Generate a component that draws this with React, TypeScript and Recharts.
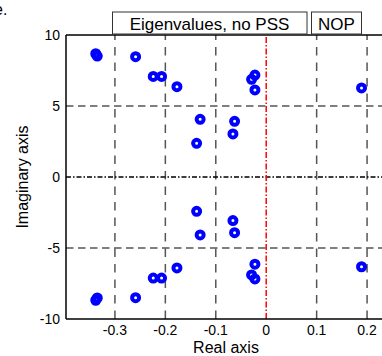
import React from "react";
import { ScatterChart, Scatter, XAxis, YAxis, ReferenceLine } from "recharts";

const realParts = [
  -0.338, -0.335, -0.259, -0.224, -0.2075, -0.177, -0.131, -0.138, -0.0224, -0.029, -0.0224, 0.189, -0.0627, -0.066,
  -0.338, -0.335, -0.259, -0.224, -0.2075, -0.177, -0.131, -0.138, -0.0224, -0.029, -0.0224, 0.189, -0.0627, -0.066,
];
const imagParts = [
  8.68, 8.52, 8.47, 7.08, 7.08, 6.36, 4.06, 2.37, 7.18, 6.88, 6.13, 6.27, 3.92, 3.03,
  -8.68, -8.52, -8.5, -7.12, -7.12, -6.4, -4.08, -2.42, -7.18, -6.9, -6.14, -6.32, -3.92, -3.07,
];
const xTicks = [-0.3, -0.2, -0.1, 0, 0.1, 0.2];
const yTicks = [-10, -5, 0, 5, 10];
const xGrid = [-0.3, -0.2, -0.1, 0.1, 0.2];
const yGrid = [-5, 5];
const xDomain = [-0.397, 0.2296];
const yDomain = [-10, 10];
const legendLabels = ["Eigenvalues, no PSS", "NOP"];
const xLabel = "Real axis";
const yLabel = "Imaginary axis";
const panelLabel = "e.";

const data = realParts.map((x, i) => ({ x, y: imagParts[i] }));

const FONT = "'Liberation Sans', Arial, sans-serif";

const Marker = (props: any) => {
  const { cx, cy } = props;
  if (cx == null || cy == null) return null;
  return <circle cx={cx} cy={cy} r={3.5} fill="none" stroke="#0000ff" strokeWidth={4} />;
};

const XTick = (props: any) => {
  const { x, payload } = props;
  return (
    <text x={x} y={335} textAnchor="middle" fontFamily={FONT} fontSize={14} fill="#000">
      {payload.value}
    </text>
  );
};

const YTick = (props: any) => {
  const { y, payload } = props;
  return (
    <text x={60} y={y + 5} textAnchor="end" fontFamily={FONT} fontSize={14} fill="#000">
      {payload.value}
    </text>
  );
};

export default function App() {
  return (
    <div style={{ position: "absolute", left: 0, top: 0, width: 382, height: 356, background: "#fff" }}>
      <ScatterChart width={382} height={356} margin={{ top: 35, right: 0, bottom: 0, left: 0 }}>
        <XAxis
          type="number"
          dataKey="x"
          domain={xDomain}
          ticks={xTicks}
          allowDataOverflow
          tickLine={false}
          axisLine={{ stroke: "#000", strokeWidth: 1.5 }}
          height={37}
          tick={<XTick />}
          interval={0}
        />
        <YAxis
          type="number"
          dataKey="y"
          domain={yDomain}
          ticks={yTicks}
          allowDataOverflow
          tickLine={false}
          axisLine={{ stroke: "#000", strokeWidth: 1.5 }}
          width={66}
          tick={<YTick />}
          interval={0}
        />
        {xGrid.map((v) => (
          <ReferenceLine key={"gx" + v} x={v} stroke="#555" strokeWidth={1.5} strokeDasharray="8.5 7" />
        ))}
        {yGrid.map((v) => (
          <ReferenceLine key={"gy" + v} y={v} stroke="#555" strokeWidth={1.5} strokeDasharray="7.5 4.5" />
        ))}
        <ReferenceLine y={0} stroke="#000" strokeWidth={1.5} strokeDasharray="5 2 1.5 2" />
        <ReferenceLine y={10} stroke="#000" strokeWidth={1.5} />
        <ReferenceLine x={0} stroke="#ff0000" strokeWidth={1.5} strokeDasharray="6 2 1.5 2" />
        <Scatter data={data} shape={<Marker />} isAnimationActive={false} />
      </ScatterChart>
      <svg
        width={382}
        height={356}
        style={{ position: "absolute", left: 0, top: 0, pointerEvents: "none" }}
      >
        <text x={-6} y={15} fontFamily={FONT} fontSize={16} fill="#000">
          {panelLabel}
        </text>
        <rect x={112.5} y={12} width={194.5} height={22} fill="#fff" stroke="#333" strokeWidth={1} />
        <text x={209.5} y={30} textAnchor="middle" fontFamily={FONT} fontSize={17} fill="#000">
          {legendLabels[0]}
        </text>
        <rect x={311.5} y={12} width={50} height={22} fill="#fff" stroke="#333" strokeWidth={1} />
        <text x={336.5} y={30} textAnchor="middle" fontFamily={FONT} fontSize={17} fill="#000">
          {legendLabels[1]}
        </text>
        <text x={226} y={353} textAnchor="middle" fontFamily={FONT} fontSize={16} fill="#000">
          {xLabel}
        </text>
        <text
          x={22}
          y={177}
          textAnchor="middle"
          dominantBaseline="central"
          transform="rotate(-90 22 177)"
          fontFamily={FONT}
          fontSize={16}
          fill="#000"
        >
          {yLabel}
        </text>
      </svg>
    </div>
  );
}
